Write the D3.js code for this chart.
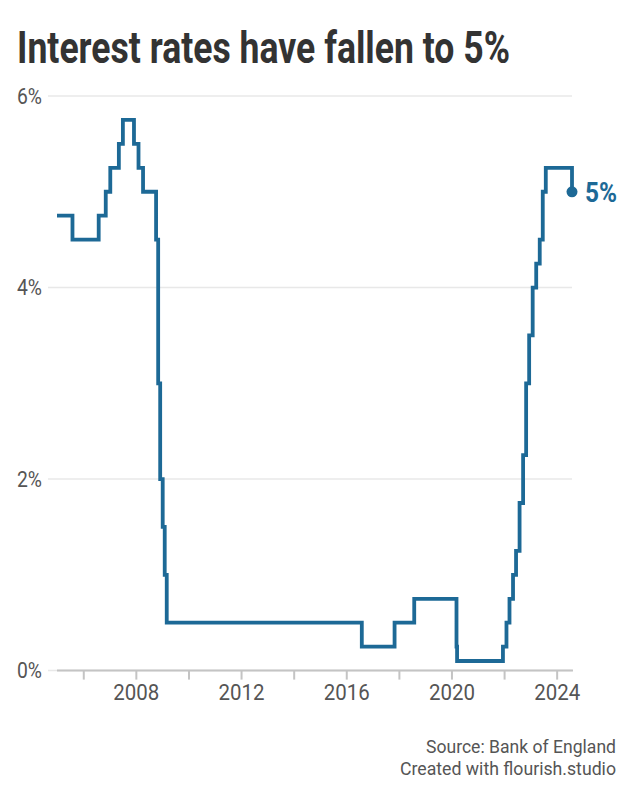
<!DOCTYPE html>
<html><head><meta charset="utf-8">
<script src="https://cdn.jsdelivr.net/npm/d3@7"></script>
<style>
html,body{margin:0;padding:0;background:#fff;}
svg{display:block;font-family:Roboto,"Noto Sans",sans-serif;}
</style></head>
<body>
<script>
// Bank of England base rate (step changes)
const dates = ["2005-01-01","2005-08-04","2006-08-03","2006-11-09","2007-01-11","2007-05-10","2007-07-05","2007-12-06","2008-02-07","2008-04-10","2008-10-08","2008-11-06","2008-12-04","2009-01-08","2009-02-05","2009-03-05","2016-08-04","2017-11-02","2018-08-02","2020-03-11","2020-03-19","2021-12-16","2022-02-03","2022-03-17","2022-05-05","2022-06-16","2022-08-04","2022-09-22","2022-11-03","2022-12-15","2023-02-02","2023-03-23","2023-05-11","2023-06-22","2023-08-03","2024-08-01"];
const rates = [4.75,4.5,4.75,5.0,5.25,5.5,5.75,5.5,5.25,5.0,4.5,3.0,2.0,1.5,1.0,0.5,0.25,0.5,0.75,0.25,0.1,0.25,0.5,0.75,1.0,1.25,1.75,2.25,3.0,3.5,4.0,4.25,4.5,5.0,5.25,5.0];
const yTicks = [0,2,4,6];
const xTickYears = [2006,2008,2010,2012,2014,2016,2018,2020,2022,2024];
const xLabelYears = [2008,2012,2016,2020,2024];
const title = "Interest rates have fallen to 5%";
const sourceLines = ["Source: Bank of England","Created with flourish.studio"];

const W = 632, H = 800;
const lineColor = "#1d6996";
const parse = d3.timeParse("%Y-%m-%d");
const data = dates.map((d,i)=>({date:parse(d), value:rates[i]}));

const svg = d3.select("body").append("svg").attr("width",W).attr("height",H);

const x = d3.scaleTime().domain([parse("2005-01-01"), parse("2024-08-01")]).range([57,572]);
const y = d3.scaleLinear().domain([0,6]).range([670.6,96]);

// title
svg.append("text").attr("x",17).attr("y",63)
  .attr("font-size",44).attr("font-weight",700).attr("fill","#333")
  .attr("textLength",493).attr("lengthAdjust","spacingAndGlyphs")
  .text(title);

// gridlines
svg.append("g").selectAll("line").data(yTicks).join("line")
  .attr("x1",48).attr("x2",572)
  .attr("y1",d=>y(d)).attr("y2",d=>y(d))
  .attr("stroke","#e8e8e8").attr("stroke-width",1.5);

// y labels
svg.append("g").selectAll("text").data(yTicks).join("text")
  .attr("x",42).attr("y",d=>y(d)).attr("dy","0.35em")
  .attr("text-anchor","end").attr("font-size",22.5).attr("fill","#555")
  .attr("textLength",25).attr("lengthAdjust","spacingAndGlyphs")
  .text(d=>d+"%");

// x axis
const xAxis = d3.axisBottom(x)
  .tickValues(xTickYears.map(yr=>new Date(yr,0,1)))
  .tickSize(9).tickPadding(4)
  .tickFormat(d=> xLabelYears.includes(d.getFullYear()) ? String(d.getFullYear()) : "");
const gx = svg.append("g").attr("transform",`translate(0,${y(0)})`).call(xAxis);
gx.select(".domain").remove();
gx.append("line").attr("x1",57).attr("x2",573).attr("y1",0).attr("y2",0)
  .attr("stroke","#c4c4c4").attr("stroke-width",2);
gx.selectAll(".tick line").attr("stroke","#c4c4c4").attr("stroke-width",2);
gx.selectAll(".tick text").attr("font-size",22.5).attr("fill","#555")
  .attr("font-family","Roboto")
  .each(function(){ if(this.textContent) { d3.select(this).attr("textLength",46).attr("lengthAdjust","spacingAndGlyphs"); }});

// line
const line = d3.line().x(d=>x(d.date)).y(d=>y(d.value)).curve(d3.curveStepAfter);
svg.append("path").datum(data).attr("d",line)
  .attr("fill","none").attr("stroke",lineColor).attr("stroke-width",3.8)
  .attr("stroke-linejoin","miter");

// end dot + label
const last = data[data.length-1];
svg.append("circle").attr("cx",x(last.date)).attr("cy",y(last.value)).attr("r",5.5).attr("fill",lineColor);
svg.append("text").attr("x",x(last.date)+13).attr("y",y(last.value)).attr("dy","0.36em")
  .attr("font-size",28).attr("font-weight",700).attr("fill",lineColor)
  .attr("textLength",32).attr("lengthAdjust","spacingAndGlyphs")
  .text(last.value+"%");

// footer
const fw = [190,216];
svg.append("g").selectAll("text").data(sourceLines).join("text")
  .attr("x",616).attr("y",(d,i)=>753+i*22).attr("text-anchor","end")
  .attr("font-size",18).attr("fill","#555")
  .attr("textLength",(d,i)=>fw[i]).attr("lengthAdjust","spacingAndGlyphs")
  .text(d=>d);
</script>
</body></html>
